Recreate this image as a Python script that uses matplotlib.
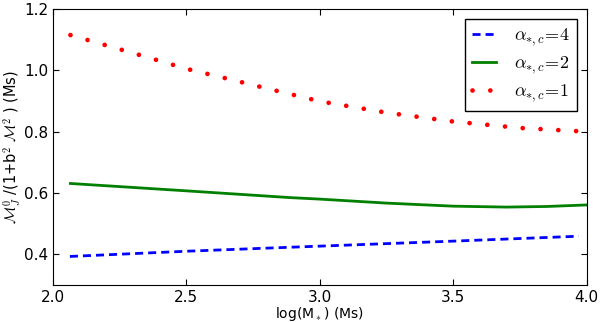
import numpy as np
import matplotlib
matplotlib.use('Agg')
from matplotlib import pyplot as plt

# data
x_red = [2.066, 2.266, 2.40, 2.5, 2.667, 2.75, 3.0, 3.25, 3.5, 3.75, 4.0]
y_red = [1.115, 1.065, 1.031, 1.005, 0.970, 0.952, 0.899, 0.862, 0.833, 0.812, 0.800]

x_green = [2.066, 2.5, 2.888, 3.0, 3.25, 3.5, 3.7, 3.85, 4.0]
y_green = [0.631, 0.607, 0.585, 0.580, 0.567, 0.557, 0.554, 0.556, 0.561]

x_blue = [2.064, 2.5, 2.888, 3.5, 3.97]
y_blue = [0.393, 0.410, 0.423, 0.443, 0.459]

plt.rcParams['mathtext.fontset'] = 'cm'
plt.rcParams['xtick.direction'] = 'in'
plt.rcParams['ytick.direction'] = 'in'
plt.rcParams['xtick.top'] = True
plt.rcParams['ytick.right'] = True

fig = plt.figure(figsize=(6, 3.22), dpi=100)
ax = fig.add_axes([0.088, 0.115, 0.890, 0.857])

ax.plot(x_blue, y_blue, color='#0000ff', lw=2, dashes=(2.9, 1.8), label=r'$\alpha_{*,c}\!=\!4$')
ax.plot(x_green, y_green, color='#008000', lw=2, label=r'$\alpha_{*,c}\!=\!2$')
ax.plot(x_red, y_red, color='#ff0000', lw=3.4, dashes=(0.01, 3.76), dash_capstyle='round',
        label=r'$\alpha_{*,c}\!=\!1$')

ax.set_xlim(2.0, 4.0)
ax.set_ylim(0.3, 1.2)
ax.set_xticks([2.0, 2.5, 3.0, 3.5, 4.0])
ax.set_yticks([0.4, 0.6, 0.8, 1.0, 1.2])
ax.tick_params(labelsize=11, length=4)
ax.set_xlabel(r'log(M$_*$) (Ms)', fontsize=10, labelpad=0)
ax.set_ylabel(r'$\mathcal{M}_J^0$ /(1+b$^2$ $\mathcal{M}^2$ ) (Ms)', fontsize=10.5)
ax.yaxis.set_label_coords(-0.056, 0.5)

leg = ax.legend(loc='upper right', fontsize=13, fancybox=False, edgecolor='black',
                handlelength=1.3, handletextpad=1.0, labelspacing=0.35,
                borderaxespad=0.55, framealpha=1)
leg.get_frame().set_linewidth(1)

fig.savefig('out.png', dpi=100)
